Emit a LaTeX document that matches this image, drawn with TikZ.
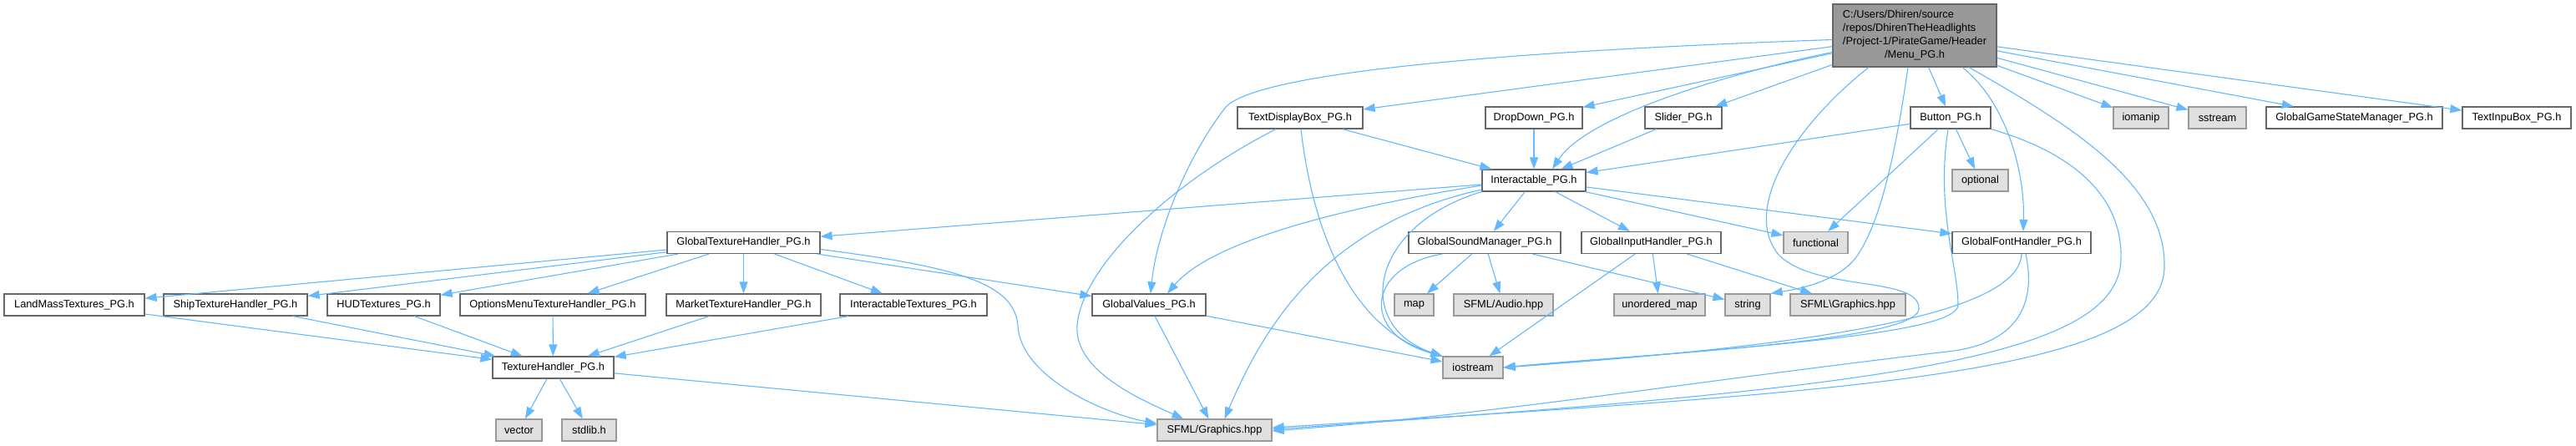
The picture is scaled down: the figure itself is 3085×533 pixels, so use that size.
\documentclass[tikz,border=0pt]{standalone}
\usepackage{fontspec}
\setmainfont{Liberation Sans}
\usepackage{tikz}
\usetikzlibrary{arrows.meta}
\definecolor{dxedge}{RGB}{99,184,255}
\definecolor{dxline}{RGB}{102,102,102}
\definecolor{dxsys}{RGB}{224,224,224}
\definecolor{dxsysline}{RGB}{153,153,153}
\definecolor{dxroot}{RGB}{153,153,153}

\begin{document}
\begin{tikzpicture}[x=1pt,y=-1pt,>={Triangle[length=14pt,width=10pt]},
  font=\fontsize{12.8}{16}\selectfont,
  hdr/.style={draw=dxline,fill=white,line width=1.2pt,inner sep=0pt,minimum height=26pt},
  sys/.style={hdr,draw=dxsysline,fill=dxsys},
  inc/.style={->,draw=dxedge,line width=1.1pt}]
  \path[fill=white,use as bounding box] (0,0) rectangle (3085,533);
  % root file
  \node[hdr,fill=dxroot,minimum width=196pt,minimum height=75pt] (menu) at (2293,42.5)
    {\begin{tabular}{@{}l@{}}C:/Users/Dhiren/source\\/repos/DhirenTheHeadlights\\
     /Project-1/PirateGame/Header\\\multicolumn{1}{@{}c@{}}{/Menu\_PG.h}\end{tabular}};
  % project headers
  \foreach \nm/\px/\py/\w/\lbl in {
      tdb/1557/141/150/TextDisplayBox\_PG.h, dd/1837/141/116/DropDown\_PG.h,
      sl/2016/141/92/Slider\_PG.h, bt/2336/141/96/Button\_PG.h,
      gg/2819.5/141/211/GlobalGameStateManager\_PG.h, ti/3014/141/130/TextInpuBox\_PG.h,
      ia/1837/216/124/Interactable\_PG.h,
      gth/890.5/290.5/183/GlobalTextureHandler\_PG.h, gsm/1778/290.5/182/GlobalSoundManager\_PG.h,
      gih/1977.5/290.5/167/GlobalInputHandler\_PG.h, gfh/2421/290.5/166/GlobalFontHandler\_PG.h,
      lm/89/365/168/LandMassTextures\_PG.h, sth/282/365/172/ShipTextureHandler\_PG.h,
      hud/459.5/365/135/HUDTextures\_PG.h, om/662/365/222/OptionsMenuTextureHandler\_PG.h,
      mk/890.5/365/185/MarketTextureHandler\_PG.h, it/1094/365/176/InteractableTextures\_PG.h,
      gv/1376/365/136/GlobalValues\_PG.h, th/662.5/440/145/TextureHandler\_PG.h}
    \node[hdr,minimum width=\w pt] (\nm) at (\px,\py) {\lbl};
  % system headers
  \foreach \nm/\px/\py/\w/\lbl in {
      im/2564/141/66/iomanip, ss/2655.5/141/69/sstream, op/2371.5/216/67/optional,
      fn/2174.5/290.5/77/functional, mp/1693.5/365/47/map, sa/1800.5/365/119/{SFML/Audio.hpp},
      um/1987.5/365/109/unordered\_map, st/2093/365/54/string,
      sb/2213/365/138/SFML\textbackslash{}Graphics.hpp, io/1764/440/72/iostream,
      vc/621.5/515/55/vector, sd/705.5/515/65/stdlib.h, sg/1454.5/515/137/{SFML/Graphics.hpp}}
    \node[sys,minimum width=\w pt] (\nm) at (\px,\py) {\lbl};
  % straight includes
  \foreach \a/\b in {menu/tdb, menu/dd, menu/sl, menu/bt, menu/im, menu/ss, menu/gg, menu/ti,
      tdb/ia, dd/ia, sl/ia, bt/ia, bt/op, bt/fn,
      ia/gth, ia/gsm, ia/gih, ia/fn, ia/gfh,
      gth/lm, gth/sth, gth/hud, gth/om, gth/mk, gth/it, gth/gv,
      lm/th, sth/th, hud/th, om/th, mk/th, it/th, th/vc, th/sd, th/sg,
      gsm/mp, gsm/sa, gsm/st, gih/um, gih/sb, gih/io, gv/io, gv/sg}
    \draw[inc] (\a) -- (\b);
  % routed includes from Menu_PG.h
  \draw[inc] ([yshift=-20pt]menu.west) .. controls (2060,90) and (1900,140) .. ([xshift=22pt]ia.north);
  \draw[inc] ([yshift=-5pt]menu.west) .. controls (1700,65) and (1500,95) .. (1468,128)
    .. controls (1420,190) and (1385,280) .. ([xshift=2pt]gv.north);
  \draw[inc] ([xshift=57pt]menu.south) .. controls (2400,120) and (2425,200) .. ([xshift=2pt]gfh.north);
  \draw[inc] ([xshift=65pt]menu.south) .. controls (2480,150) and (2594,220) .. (2592,320)
    .. controls (2590,450) and (2200,470) .. ([yshift=3pt]sg.east);
  \draw[inc] ([xshift=-8pt]menu.south) .. controls (2272,170) and (2255,260) .. (2225,305)
    .. controls (2205,335) and (2160,345) .. (st.north east);
  \draw[inc] ([xshift=-55pt]menu.south) .. controls (2150,150) and (2085,250) .. (2130,305)
    .. controls (2175,350) and (2300,330) .. (2298,370) .. controls (2296,410) and (1950,425) .. (io.east);
  % Button_PG.h and GlobalFontHandler_PG.h
  \draw[inc] ([xshift=-3pt]bt.south) .. controls (2318,250) and (2345,320) .. (2345,365)
    .. controls (2345,400) and (2100,415) .. (io.east);
  \draw[inc] (bt.south east) .. controls (2490,185) and (2542,240) .. (2540,310)
    .. controls (2538,430) and (2250,465) .. ([yshift=1pt]sg.east);
  \draw[inc] (gfh.south) .. controls (2418,380) and (2150,415) .. (io.east);
  \draw[inc] ([xshift=5pt]gfh.south) .. controls (2440,370) and (2410,410) .. (2340,420)
    .. controls (2000,460) and (1800,495) .. ([yshift=-1pt]sg.east);
  % TextDisplayBox_PG.h
  \draw[inc] ([xshift=1pt]tdb.south) .. controls (1570,260) and (1610,390) .. (io.north west);
  \draw[inc] ([xshift=-29pt]tdb.south) .. controls (1400,220) and (1295,320) .. (1290,390)
    .. controls (1286,445) and (1370,480) .. ([xshift=32pt]sg.north west);
  % Interactable_PG.h
  \draw[inc] ([yshift=-6pt]ia.west) .. controls (1600,250) and (1450,290) .. ([xshift=22pt]gv.north);
  \draw[inc] (ia.south west) .. controls (1640,270) and (1620,390) .. (io.north west);
  \draw[inc] ([yshift=-11pt]ia.west) .. controls (1580,270) and (1510,400) .. ([xshift=12pt]sg.north);
  % GlobalSoundManager_PG.h, GlobalTextureHandler_PG.h
  \draw[inc] ([xshift=-51pt]gsm.south) .. controls (1635,320) and (1630,400) .. (io.north west);
  \draw[inc] ([yshift=-8pt]gth.east) .. controls (1150,320) and (1215,340) .. (1219,390)
    .. controls (1222,450) and (1320,495) .. ([yshift=8pt]sg.west);
\end{tikzpicture}
\end{document}
